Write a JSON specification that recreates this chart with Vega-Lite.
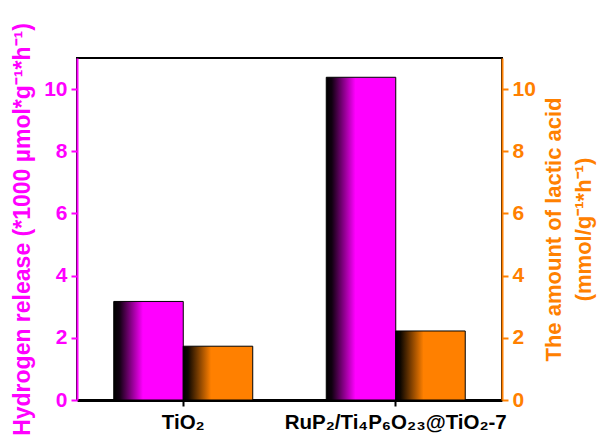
{
  "$schema": "https://vega.github.io/schema/vega-lite/v6.json",
  "width": 425,
  "height": 342,
  "autosize": "none",
  "padding": {"left": 77, "top": 58, "right": 106, "bottom": 46},
  "background": "white",
  "config": {
    "view": {"stroke": "black", "strokeWidth": 2},
    "font": "Liberation Sans"
  },
  "data": {
    "values": [
      {"cat": "TiO₂", "s": "H", "v": 3.17},
      {"cat": "TiO₂", "s": "L", "v": 1.73},
      {"cat": "RuP₂/Ti₄P₆O₂₃@TiO₂-7", "s": "H", "v": 10.38},
      {"cat": "RuP₂/Ti₄P₆O₂₃@TiO₂-7", "s": "L", "v": 2.22}
    ]
  },
  "encoding": {
    "x": {
      "field": "cat",
      "type": "nominal",
      "sort": null,
      "scale": {"paddingInner": 0.346, "paddingOuter": 0.173},
      "axis": {
        "title": null,
        "labelAngle": 0,
        "labelFontSize": 20.5,
        "labelFontWeight": "bold",
        "labelColor": "black",
        "labelLimit": 0,
        "labelPadding": 6,
        "domainColor": "black",
        "domainWidth": 3,
        "tickColor": "black",
        "tickWidth": 2,
        "tickSize": 6
      }
    },
    "xOffset": {"field": "s", "type": "nominal", "scale": {"domain": ["H", "L"], "paddingInner": 0, "paddingOuter": 0}}
  },
  "layer": [
    {
      "transform": [{"filter": "datum.s === 'H'"}],
      "mark": {
        "type": "bar",
        "stroke": "black",
        "strokeWidth": 1,
        "fill": {
          "gradient": "linear",
          "x1": 0, "y1": 0, "x2": 1, "y2": 0,
          "stops": [
            {"offset": 0, "color": "#000000"},
            {"offset": 0.08, "color": "#100010"},
            {"offset": 0.42, "color": "#ff00ff"},
            {"offset": 1, "color": "#ff00ff"}
          ]
        }
      },
      "encoding": {
        "y": {
          "field": "v",
          "type": "quantitative",
          "scale": {"domain": [0, 11], "nice": false},
          "axis": {
            "orient": "left",
            "values": [0, 2, 4, 6, 8, 10],
            "grid": false,
            "title": "Hydrogen release (*1000 µmol*g⁻¹*h⁻¹)",
            "titleColor": "#ff00ff",
            "titleFontSize": 23,
            "titleFontWeight": "bold",
            "titlePadding": 9,
            "labelColor": "#ff00ff",
            "labelFontSize": 21,
            "labelFontWeight": "bold",
            "labelPadding": 4,
            "domainColor": "#ff00ff",
            "domainWidth": 2,
            "tickColor": "#ff00ff",
            "tickWidth": 2,
            "tickSize": 6
          }
        }
      }
    },
    {
      "transform": [{"filter": "datum.s === 'L'"}],
      "mark": {
        "type": "bar",
        "stroke": "black",
        "strokeWidth": 1,
        "fill": {
          "gradient": "linear",
          "x1": 0, "y1": 0, "x2": 1, "y2": 0,
          "stops": [
            {"offset": 0, "color": "#000000"},
            {"offset": 0.07, "color": "#100800"},
            {"offset": 0.4, "color": "#ff8000"},
            {"offset": 1, "color": "#ff8000"}
          ]
        }
      },
      "encoding": {
        "y": {
          "field": "v",
          "type": "quantitative",
          "scale": {"domain": [0, 11], "nice": false},
          "axis": {
            "orient": "right",
            "values": [0, 2, 4, 6, 8, 10],
            "grid": false,
            "title": ["The amount of lactic acid", "(mmol/g⁻¹*h⁻¹)"],
            "titleAngle": -90,
            "titleLineHeight": 30,
            "titleColor": "#ff8000",
            "titleFontSize": 22,
            "titleFontWeight": "bold",
            "titlePadding": 0,
            "labelColor": "#ff8000",
            "labelFontSize": 21,
            "labelFontWeight": "bold",
            "labelPadding": 4,
            "domainColor": "#ff8000",
            "domainWidth": 2,
            "tickColor": "#ff8000",
            "tickWidth": 2,
            "tickSize": 6
          }
        }
      }
    }
  ],
  "resolve": {"scale": {"y": "independent"}, "axis": {"y": "independent"}}
}
